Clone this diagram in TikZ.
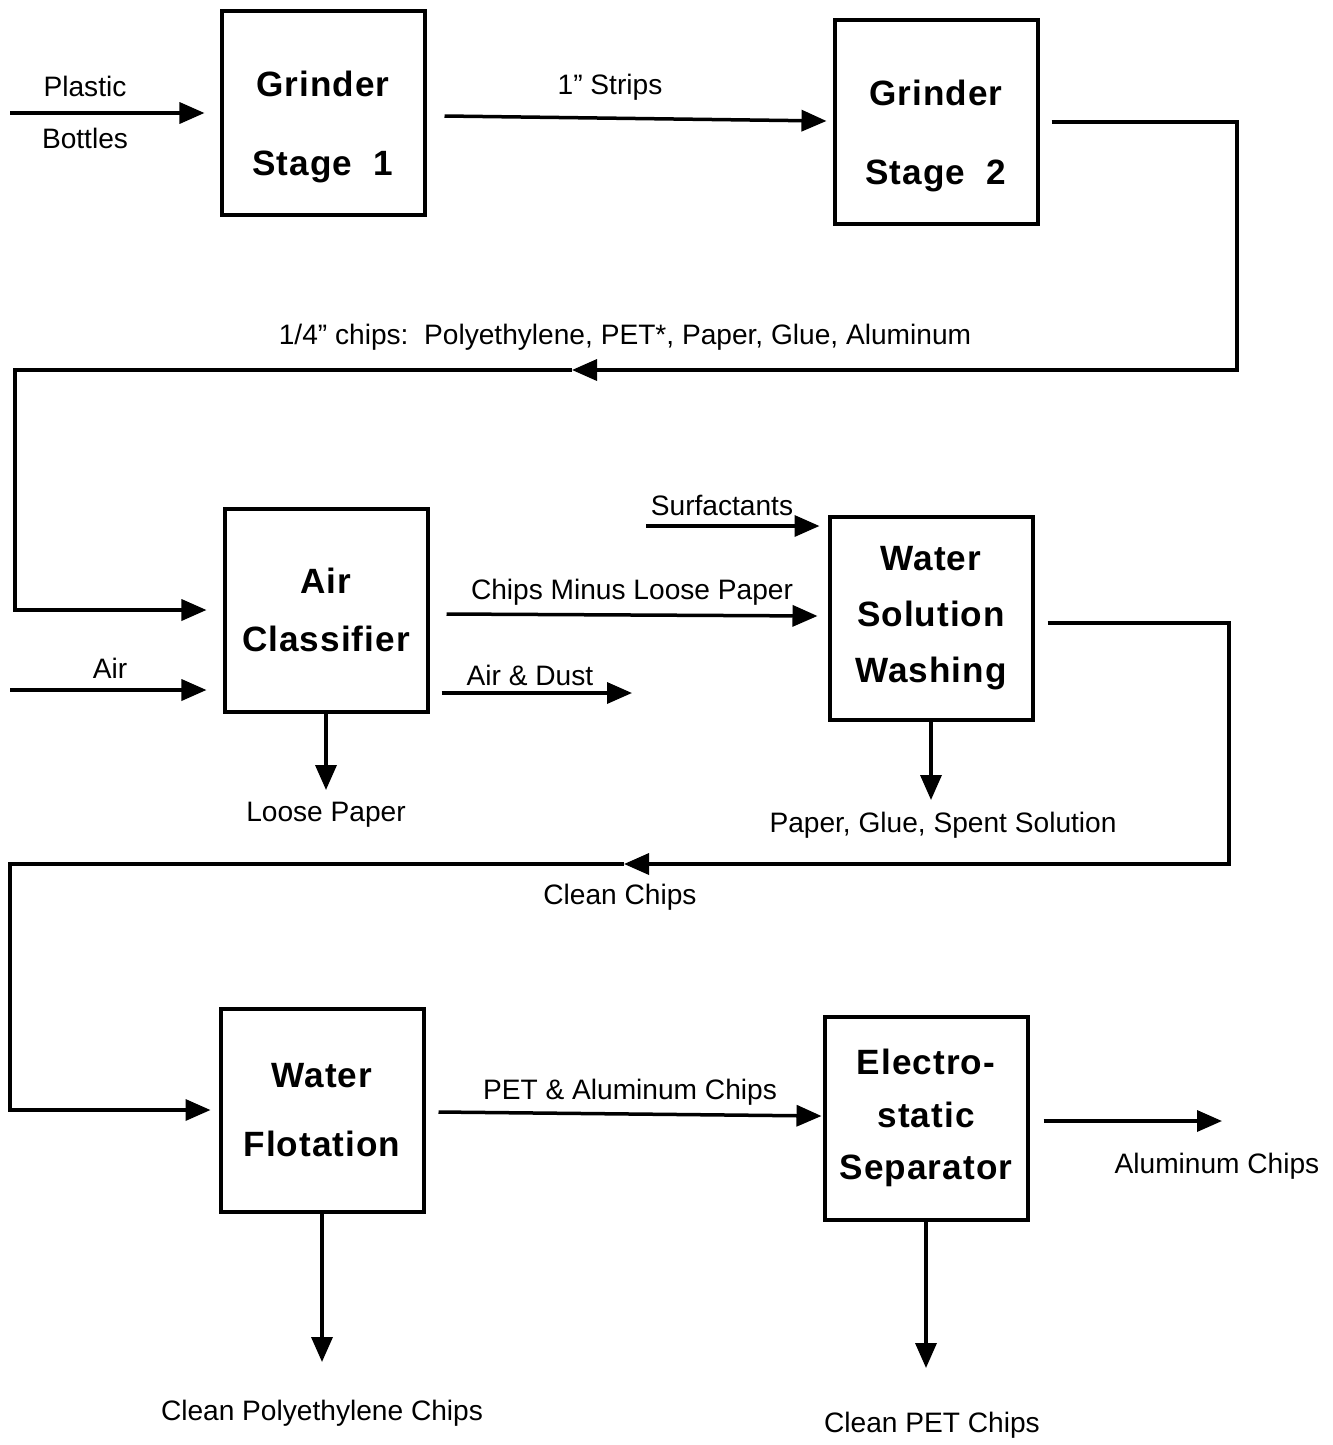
\documentclass[tikz,border=0pt]{standalone}
\usepackage{fontspec}
\setmainfont{Liberation Sans}
\newfontfamily\boxfam[LetterSpace=3]{Liberation Sans}
\usetikzlibrary{arrows.meta}
\newcommand\boxfont[1]{\boxfam\bfseries\fontsize{20}{#1}\selectfont}
\newcommand\lowtext[1]{\raisebox{-2.8mm}[\height][\depth]{#1}}

\begin{document}
\begin{tikzpicture}[x=0.2mm, y=-0.2mm, line width=0.7mm,
    every node/.style={font=\fontsize{16}{19}\selectfont},
    unit/.style={draw, line width=0.8mm, minimum width=40.6mm, minimum height=40.6mm, inner sep=0pt, align=center},
    flow/.style={-{Triangle[length=5mm,width=4.2mm]}}]
  \useasboundingbox (0,0) rectangle (1332,1445);

  % process units
  \node[unit, font=\boxfont{45}] (grindA) at (323,113) {\lowtext{Grinder}\\\lowtext{Stage\ \ 1}};
  \node[unit, font=\boxfont{45}] (grindB) at (936,122) {\lowtext{Grinder}\\\lowtext{Stage\ \ 2}};
  \node[unit, font=\boxfont{33}] (aircl) at (326,610) {Air\\Classifier};
  \node[unit, font=\boxfont{32}] (wash) at (931,618) {Water\\Solution\\Washing};
  \node[unit, font=\boxfont{39}] (float) at (322,1110) {Water\\Flotation};
  \node[unit, font=\boxfont{30}] (elec) at (926,1118) {Electro-\\static\\Separator};

  % free ends
  \coordinate (inBottles) at (10,113);
  \coordinate (bendA) at (1237,370);
  \coordinate (midA) at (572,370);
  \coordinate (bendB) at (15,370);
  \coordinate (inAir) at (10,690);
  \coordinate (outDust) at (632,693);
  \coordinate (outPaper) at (326,790);
  \coordinate (inSurf) at (646,526);
  \coordinate (outSpent) at (931,800);
  \coordinate (bendC) at (1229,864);
  \coordinate (midB) at (624,864);
  \coordinate (bendD) at (10,864);
  \coordinate (outAlu) at (1222,1121);
  \coordinate (outPE) at (322,1362);
  \coordinate (outPET) at (926,1368);

  % first line
  \draw[flow, shorten >=3mm] (inBottles) -- (grindA.west);
  \draw[flow] ([shift={(3.6mm,-0.6mm)}]grindA.east) -- ([shift={(-1.2mm,0.2mm)}]grindB.west);
  \draw[flow] ([xshift=2.4mm]grindB.east) -| (bendA) -- (midA);
  \draw[flow] (midA) -- (bendB) |- ([xshift=-3.2mm]aircl.west);

  % second line
  \draw[flow, shorten >=3.2mm] (inAir) -- (inAir -| aircl.west);
  \draw[flow] ([shift={(3.4mm,-0.8mm)}]aircl.east) -- ([shift={(-2mm,0.4mm)}]wash.west);
  \draw[flow, shorten <=2.4mm] (outDust -| aircl.east) -- (outDust);
  \draw[flow] (aircl.south) -- (outPaper);
  \draw[flow, shorten >=1.6mm] (inSurf) -- (inSurf -| wash.west);
  \draw[flow] (wash.south) -- (outSpent);
  \draw[flow] ([shift={(2.6mm,-1mm)}]wash.east) -| (bendC) -- (midB);
  \draw[flow] (midB) -- (bendD) |- ([xshift=-1.6mm]float.west);

  % third line
  \draw[flow] ([shift={(2.6mm,-0.4mm)}]float.east) -- ([shift={(-0.2mm,0.4mm)}]elec.west);
  \draw[flow, shorten <=2.8mm] (outAlu -| elec.east) -- (outAlu);
  \draw[flow] (float.south) -- (outPE);
  \draw[flow] (elec.south) -- (outPET);

  % stream labels
  \node (lPlastic) at (85,86) {Plastic};
  \node (lBottles) at (85,138) {Bottles};
  \node (lStrips) at (610,87) {1" Strips};
  \node (lChips) at (625,337) {1/4" chips:\ \ Polyethylene, PET*, Paper, Glue, Aluminum};
  \node (lAir) at (110,668) {Air};
  \node (lMinus) at (632,592) {Chips Minus Loose Paper};
  \node (lDust) at (530,675) {Air \& Dust};
  \node (lLoose) at (326,815) {Loose Paper};
  \node (lSurf) at (722,505) {Surfactants};
  \node (lSpent) at (943,825) {Paper, Glue, Spent Solution};
  \node (lClean) at (620,897) {Clean Chips};
  \node (lPetAlu) at (630,1092) {PET \& Aluminum Chips};
  \node (lAlu) at (1217,1166) {Aluminum Chips};
  \node (lPE) at (322,1413) {Clean Polyethylene Chips};
  \node (lPET) at (932,1425) {Clean PET Chips};
\end{tikzpicture}
\end{document}
